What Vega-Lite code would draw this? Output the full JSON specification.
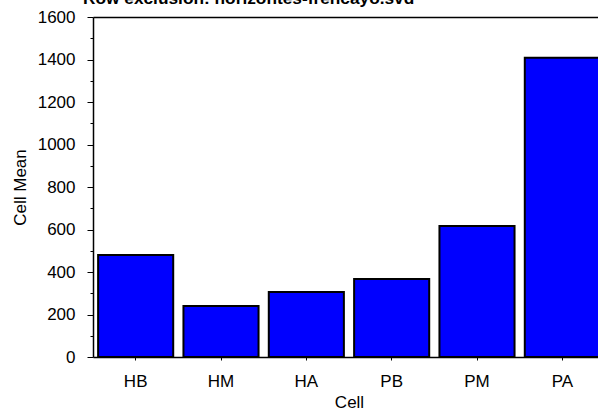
{
  "$schema": "https://vega.github.io/schema/vega-lite/v6.json",
  "autosize": "none",
  "width": 505,
  "height": 340,
  "padding": {"left": 93, "top": 17, "right": 0, "bottom": 57},
  "background": "white",
  "config": {
    "font": "Liberation Sans",
    "view": {"stroke": null},
    "axis": {"grid": false, "domainColor": "black", "tickColor": "black", "labelColor": "black", "titleColor": "black", "labelFont": "Liberation Sans", "titleFont": "Liberation Sans", "titleFontWeight": "normal"}
  },
  "title": {"text": "Row exclusion: horizontes-frencayo.svd", "anchor": "start", "frame": "group", "dx": -10, "offset": 0, "dy": 13, "baseline": "alphabetic", "fontSize": 17.3, "fontWeight": "bold", "font": "Liberation Sans", "color": "black"},
  "data": {"values": [
    {"Cell": "HB", "Mean": 480},
    {"Cell": "HM", "Mean": 240},
    {"Cell": "HA", "Mean": 306},
    {"Cell": "PB", "Mean": 367},
    {"Cell": "PM", "Mean": 616},
    {"Cell": "PA", "Mean": 1408}
  ]},
  "layer": [
    {
      "mark": {"type": "bar", "color": "#0000FF", "stroke": "black", "strokeWidth": 2, "clip": true},
      "encoding": {
        "x": {"field": "Cell", "type": "nominal", "sort": null,
              "scale": {"range": [0, 512], "paddingInner": 0.12, "paddingOuter": 0.06},
              "axis": {"labelAngle": 0, "labelFontSize": 17, "titleFontSize": 17, "tickSize": 3, "domainWidth": 1.5, "labelPadding": 13, "titlePadding": 5}},
        "y": {"field": "Mean", "type": "quantitative",
              "scale": {"domain": [0, 1600], "nice": false},
              "axis": {"title": "Cell Mean", "format": "d", "values": [0, 200, 400, 600, 800, 1000, 1200, 1400, 1600], "labelFontSize": 17, "titleFontSize": 17, "tickSize": 6, "domainWidth": 1.5, "labelPadding": 12, "titlePadding": 8}}
      }
    },
    {
      "mark": {"type": "tick", "opacity": 0},
      "encoding": {
        "x": {"field": "Cell", "type": "nominal", "sort": null,
              "axis": {"orient": "top", "title": null, "labels": false, "ticks": false, "domainWidth": 1.5}},
        "y": {"field": "Mean", "type": "quantitative",
              "axis": {"orient": "left", "title": null, "labels": false, "domain": false, "tickSize": 3, "values": [100, 300, 500, 700, 900, 1100, 1300, 1500]}}
      }
    }
  ],
  "resolve": {"axis": {"y": "independent", "x": "independent"}}
}
